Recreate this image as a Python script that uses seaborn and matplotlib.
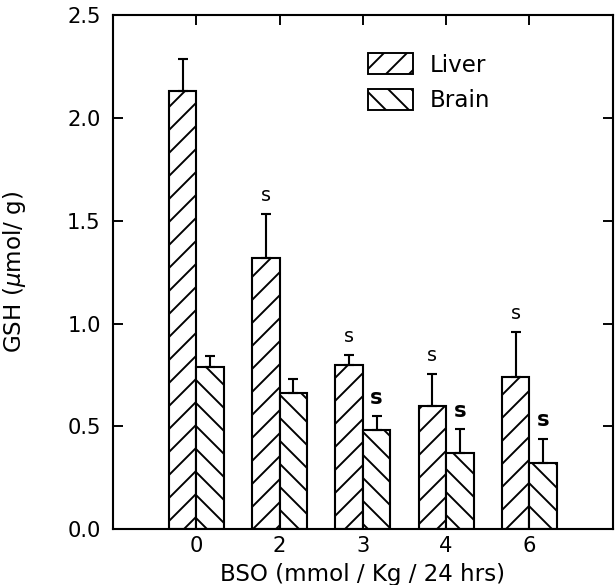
import numpy as np
import pandas as pd
import matplotlib
matplotlib.use('Agg')
import matplotlib.pyplot as plt
import seaborn as sns
from matplotlib.patches import Patch

# --- data ---
doses = ['0', '2', '3', '4', '6']
liver_mean = [2.13, 1.32, 0.80, 0.60, 0.74]
liver_err = [0.16, 0.215, 0.045, 0.155, 0.22]
brain_mean = [0.79, 0.66, 0.48, 0.37, 0.32]
brain_err = [0.05, 0.07, 0.07, 0.115, 0.12]
liver_sig = ['', 's', 's', 's', 's']
brain_sig = ['', '', 's', 's', 's']
tissues = ['Liver', 'Brain']

df = pd.DataFrame({
    'dose': doses * 2,
    'gsh': liver_mean + brain_mean,
    'tissue': ['Liver'] * len(doses) + ['Brain'] * len(doses),
})

sns.set_style('ticks')
plt.rcParams['font.family'] = ['DejaVu Sans']
plt.rcParams['text.color'] = 'black'
plt.rcParams['axes.labelcolor'] = 'black'
plt.rcParams['hatch.linewidth'] = 1.0
plt.rcParams['hatch.color'] = 'black'

DPI = 138  # keeps the hatch spacing close to the original
fig = plt.figure(figsize=(615 / DPI, 585 / DPI), dpi=DPI)
ax = fig.add_axes([0.184, 0.0957, 0.812, 0.878])

sns.barplot(data=df, x='dose', y='gsh', hue='tissue', order=doses, hue_order=tissues,
            palette={'Liver': 'white', 'Brain': 'white'}, edgecolor='black',
            linewidth=1.1, width=0.66, errorbar=None, legend=False, ax=ax)

hatches = {'Liver': '//', 'Brain': '\\\\'}
for cont, tis in zip(ax.containers, tissues):
    for bar in cont:
        bar.set_hatch(hatches[tis])

# upper error bars + significance marks
for cont, means, errs, sig, bold in zip(ax.containers, [liver_mean, brain_mean],
                                        [liver_err, brain_err], [liver_sig, brain_sig],
                                        [False, True]):
    xs = [b.get_x() + b.get_width() / 2 for b in cont]
    ax.errorbar(xs, means, yerr=[np.zeros(len(errs)), errs], fmt='none', ecolor='black',
                elinewidth=1.1, capsize=2.6, capthick=1.1, zorder=3)
    for x, m, e, s in zip(xs, means, errs, sig):
        if s:
            ax.text(x, m + e + 0.09, s, ha='center', va='center',
                    fontsize=11 if bold else 10,
                    fontweight='bold' if bold else 'normal')

ax.set_xlim(-1, 5)
ax.set_ylim(0, 2.5)
ax.set_yticks([0, 0.5, 1.0, 1.5, 2.0, 2.5])
ax.set_yticklabels(['0.0', '0.5', '1.0', '1.5', '2.0', '2.5'])

for sp in ax.spines.values():
    sp.set_visible(True)
    sp.set_linewidth(1.1)
    sp.set_color('black')
ax.tick_params(direction='in', length=5, width=1.0, top=True, right=True,
               labelsize=11, colors='black')
ax.tick_params(axis='y', pad=6.5)
ax.tick_params(axis='x', pad=3.5)

ax.set_xlabel('BSO (mmol / Kg / 24 hrs)', fontsize=12, labelpad=4)
ax.set_ylabel(r'GSH ($\mu$mol/ g)', fontsize=12)
ax.yaxis.set_label_coords(-0.17, 0.5)

handles = [Patch(facecolor='white', edgecolor='black', hatch=hatches[t], label=t) for t in tissues]
ax.legend(handles=handles, loc='upper left', bbox_to_anchor=(0.511, 0.926), frameon=False,
          fontsize=12, handlelength=1.95, handleheight=1.0, handletextpad=0.7,
          labelspacing=0.55, borderpad=0, borderaxespad=0)

fig.savefig('out.png', dpi=DPI)
